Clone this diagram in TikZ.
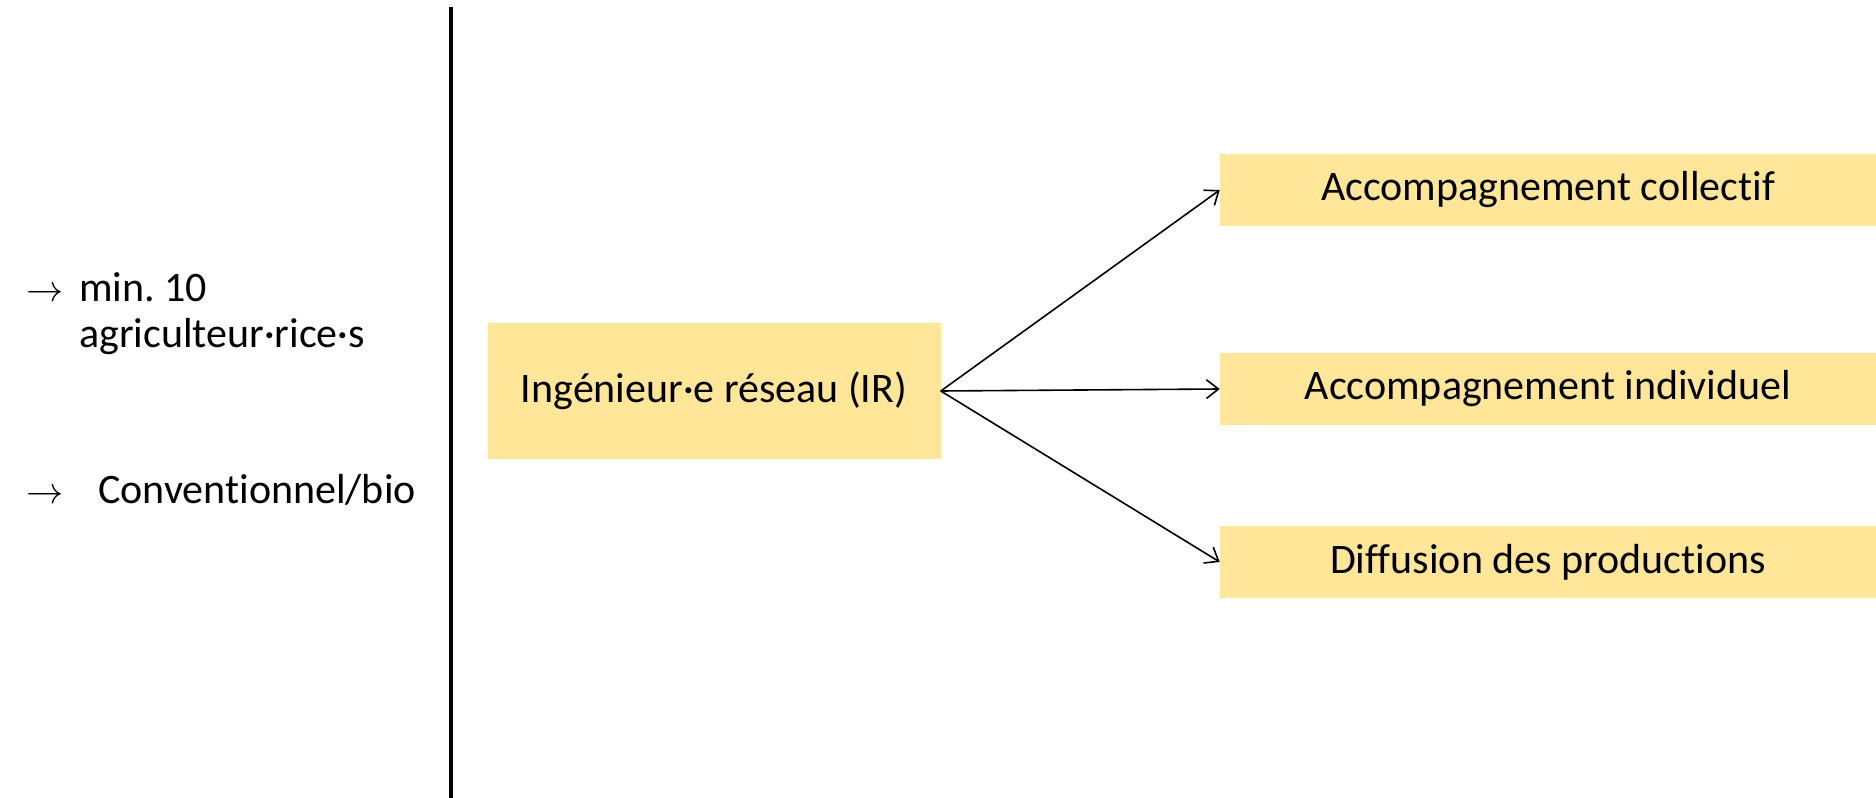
\documentclass[tikz,border=0pt]{standalone}
\usepackage{fontspec}
\setmainfont{Carlito}[Ligatures=NoCommon]
\usetikzlibrary{arrows.meta,positioning}
\definecolor{boxgold}{RGB}{255,230,153}
\frenchspacing
\newcommand{\bulletarrow}{\scalebox{1.12}{$\rightarrow$}}
\tikzset{
  goldbox/.style={fill=boxgold, draw=none, inner sep=0pt, font=\fontsize{31.5}{38}\selectfont},
  bigtext/.style={font=\fontsize{31.5}{38}\selectfont, inner sep=0pt},
  arrowmark/.style={font=\fontsize{24.88}{30}\selectfont, inner sep=0pt},
  link/.style={-{Straight Barb[length=9pt,width=14pt]}, line width=1.2pt}
}

\begin{document}
\begin{tikzpicture}[x=0.75pt,y=-0.75pt]
\useasboundingbox (0,0) rectangle (1876,798);
% separator
\coordinate (sepTop) at (451,7);
\coordinate (sepBot) at (451,798);
\draw[line width=2.4pt] (sepTop) -- (sepBot);

% left notes
\node[arrowmark, anchor=base west] (arrMin) at (26,302) {\bulletarrow};
\node[bigtext, anchor=base west] (minTxt) at (79,302) {min. 10};
\node[bigtext, anchor=base west] (agriTxt) at (79,348) {agriculteur·rice·s};
\node[arrowmark, anchor=base west] (arrConv) at (26,503) {\bulletarrow};
\node[bigtext, anchor=base west] (convTxt) at (98,503) {Conventionnel/bio};

% boxes
\node[goldbox, minimum width=339.75pt, minimum height=102pt] (ir) at (714,391) {Ingénieur·e réseau (IR)};
\node[goldbox, minimum width=492pt, minimum height=54pt] (collectif) at (1548,190) {Accompagnement collectif};
\node[goldbox, minimum width=492pt, minimum height=54pt] (individuel) at (1548,389) {Accompagnement individuel};
\node[goldbox, minimum width=492pt, minimum height=54pt] (diffusion) at (1548,562) {Diffusion des productions};

% connectors
\draw[link] (ir.east) -- (collectif.west);
\draw[link] (ir.east) -- (individuel.west);
\draw[link] (ir.east) -- (diffusion.west);
\end{tikzpicture}
\end{document}
